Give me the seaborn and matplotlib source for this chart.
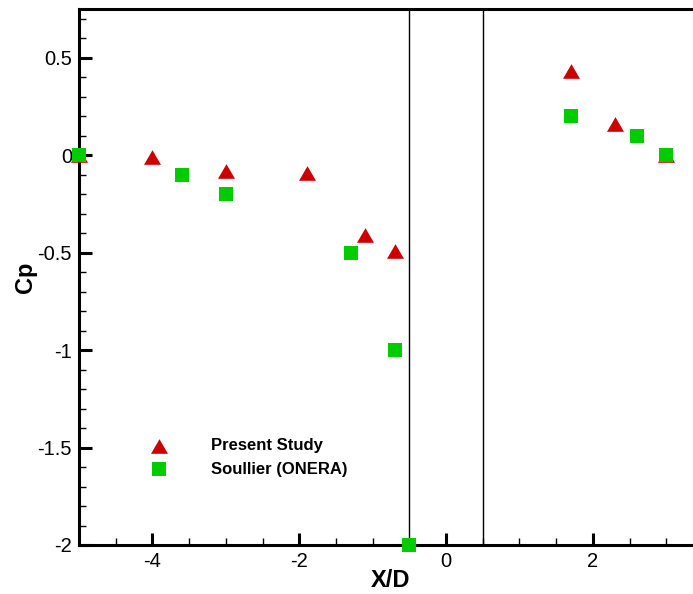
import matplotlib
matplotlib.use("Agg")
import matplotlib.pyplot as plt
import numpy as np
import pandas as pd
import seaborn as sns
from matplotlib.path import Path
from matplotlib.ticker import FuncFormatter, MultipleLocator

# Donnees
present_x = [-5.0, -4.0, -3.0, -1.9, -1.1, -0.7, 1.7, 2.3, 3.0]
present_cp = [0.0, -0.01, -0.08, -0.09, -0.41, -0.49, 0.43, 0.16, 0.0]
soullier_x = [-5.0, -3.6, -3.0, -1.3, -0.7, -0.5, 1.7, 2.6, 3.0]
soullier_cp = [0.0, -0.1, -0.2, -0.5, -1.0, -2.0, 0.2, 0.1, 0.0]
body_edges = [-0.5, 0.5]
labels = ["Present Study", "Soullier (ONERA)"]

sns.set_style("ticks")
plt.rcParams["font.family"] = ["Liberation Sans", "DejaVu Sans"]
plt.rcParams["axes.unicode_minus"] = False
for key in ["text.color", "axes.labelcolor", "xtick.color", "ytick.color"]:
    plt.rcParams[key] = "black"

df_present = pd.DataFrame({"X/D": present_x, "Cp": present_cp})
df_soullier = pd.DataFrame({"X/D": soullier_x, "Cp": soullier_cp})

# triangle un peu aplati
tri = Path([(0, 0.86), (-1, -0.86), (1, -0.86), (0, 0.86)],
           [Path.MOVETO, Path.LINETO, Path.LINETO, Path.CLOSEPOLY])

fig = plt.figure(figsize=(6.93, 5.94), dpi=100)
ax = fig.add_axes([79 / 693, 49 / 594, 624 / 693, 536 / 594])

for xv in body_edges:
    ax.axvline(xv, color="black", lw=1.0, zorder=2)

sns.scatterplot(data=df_present, x="X/D", y="Cp", marker=tri, s=150,
                color="#cc0000", linewidth=0, label=labels[0], ax=ax,
                clip_on=False, zorder=3)
sns.scatterplot(data=df_soullier, x="X/D", y="Cp", marker="s", s=105,
                color="#00cc00", linewidth=0, label=labels[1], ax=ax,
                clip_on=False, zorder=3)

ax.set_xlim(-5, 3.5)
ax.set_ylim(-2, 0.75)

ax.xaxis.set_major_locator(MultipleLocator(2))
ax.xaxis.set_minor_locator(MultipleLocator(0.5))
ax.yaxis.set_major_locator(MultipleLocator(0.5))
ax.yaxis.set_minor_locator(MultipleLocator(0.1))
fmt = FuncFormatter(lambda v, p: "%g" % round(v, 3))
ax.xaxis.set_major_formatter(fmt)
ax.yaxis.set_major_formatter(fmt)

ax.tick_params(which="major", direction="in", length=9, width=2.2,
               labelsize=14.5, pad=5)
ax.tick_params(which="minor", direction="in", length=4.8, width=1.0)

for side in ["left", "bottom", "top", "right"]:
    ax.spines[side].set_linewidth(2.2)
    ax.spines[side].set_color("black")

ax.set_xlabel("X/D", fontsize=17, fontweight="bold")
ax.set_ylabel("Cp", fontsize=17, fontweight="bold")
ax.xaxis.set_label_coords(0.5, -0.045)
ax.yaxis.set_label_coords(-0.067, 0.5)

ax.legend(loc="center left", bbox_to_anchor=(0.078, 0.163), frameon=False,
          prop={"size": 12, "weight": "bold"}, handlelength=2,
          handletextpad=2.1, labelspacing=0.5, borderpad=0.4)

fig.savefig("out.png", dpi=100)
